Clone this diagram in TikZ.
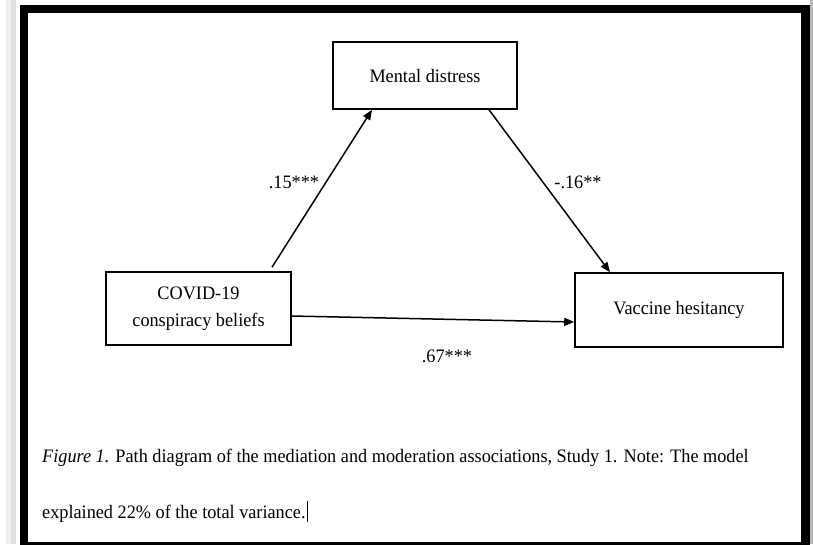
\documentclass[tikz,border=0pt]{standalone}
\usepackage{fontspec}
\setmainfont{Liberation Serif}[FakeStretch=0.96]
\usetikzlibrary{arrows.meta,calc}
\begin{document}
\begin{tikzpicture}[x=1pt,y=-1pt,
  box/.style={draw,line width=1.6pt,inner sep=0pt,align=center,font=\fontsize{19}{27}\selectfont},
  arr/.style={line width=1.5pt,-{Triangle[length=10pt,width=8pt]}},
  lab/.style={font=\fontsize{19}{20}\selectfont,inner sep=0pt},
  captext/.style={font=\fontsize{19}{20}\selectfont,inner sep=0pt,anchor=base west}]
\useasboundingbox (0,0) rectangle (813,544);
\fill[white] (0,0) rectangle (813,544);
% shadows
\fill[gray!12] (6,0) rectangle (14,544);
\fill[gray!25] (11,0) rectangle (16,544);
\fill[gray!55] (810,0) rectangle (813,544);
% frame
\begin{scope}
\clip (0,0) rectangle (813,544);
\draw[line width=8.5pt] (24,9) rectangle (805.5,546.5);
\end{scope}
% nodes
\node[box,minimum width=185pt,minimum height=73pt] (cov) at (198.5,308.5) {COVID-19\\conspiracy beliefs};
\node[box,minimum width=184pt,minimum height=67pt] (md) at (425,75.5) {Mental distress};
\node[box,minimum width=208pt,minimum height=74pt] (vac) at (679,310) {\raisebox{-2pt}{Vaccine hesitancy}};
% connectors
\draw[arr] ($(cov.north)+(73.5,-4)$) -- ($(md.south)+(-53,0)$);
\draw[arr] ($(md.south)+(64,0)$) -- ($(vac.north)+(-69,0)$);
\draw[arr] ($(cov.east)+(0,7.5)$) -- ($(vac.west)+(0,12)$);
% labels
\node[lab] (l1) at (294,182) {.15***};
\node[lab] (l2) at (578,182) {-.16**};
\node[lab] (l3) at (447,356) {.67***};
% caption
\node[captext] (c1) at (42,462) {\textit{Figure 1.} Path diagram of the mediation and moderation associations, Study 1. Note: The model};
\node[captext] (c2) at (42,518) {explained 22\% of the total variance.};
\draw[line width=1pt] ($(c2.base east)+(2,4)$) -- ($(c2.base east)+(2,-17)$);
\end{tikzpicture}
\end{document}
